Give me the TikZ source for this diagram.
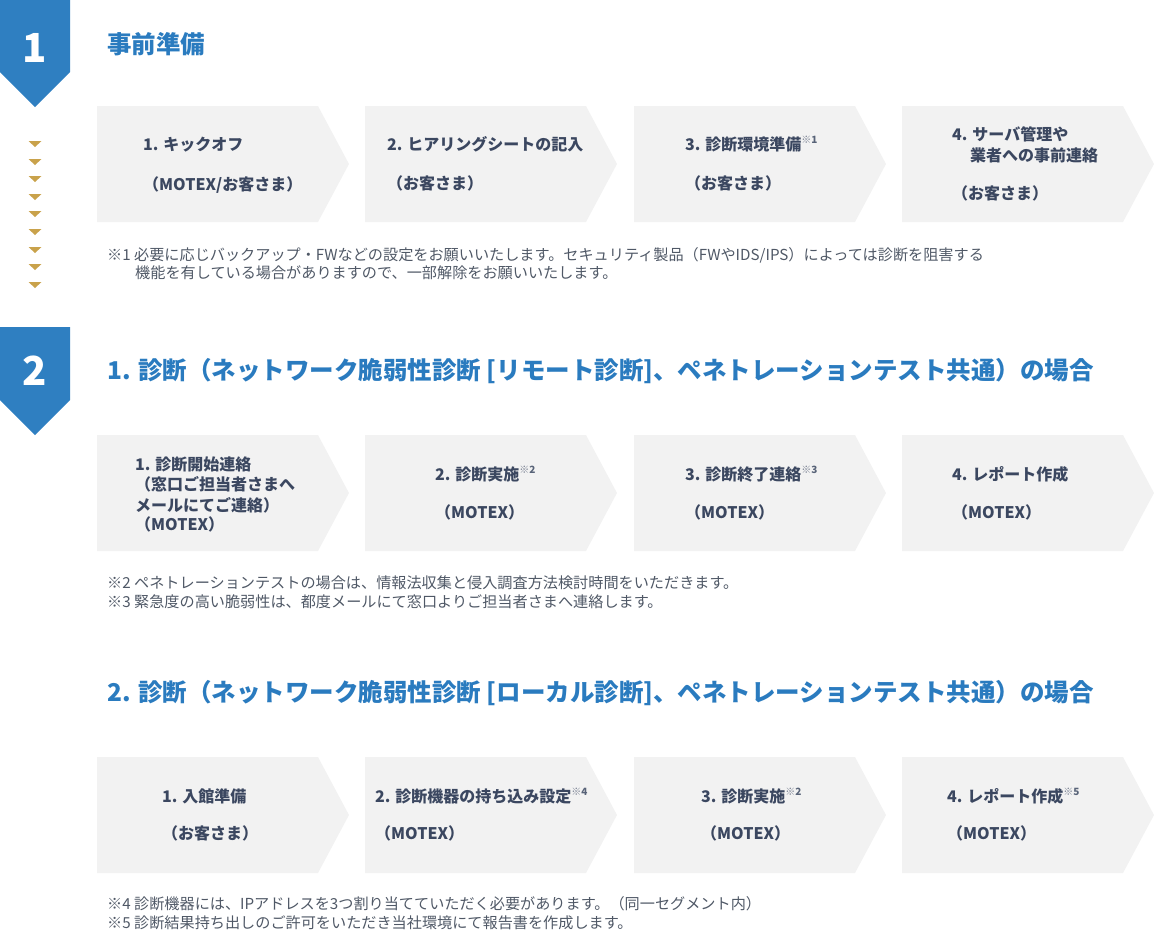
\documentclass[tikz,border=0pt]{standalone}
\usepackage{fontspec}
\setmainfont{Noto Sans CJK JP}
\definecolor{badgeblue}{HTML}{2F7FC1}
\definecolor{headblue}{HTML}{2A7BBF}
\definecolor{boxgray}{HTML}{F2F2F2}
\definecolor{stepcol}{HTML}{3B4760}
\definecolor{notecol}{HTML}{4F5866}
\definecolor{gold}{HTML}{C9A24B}
\newcommand\komeref[1]{\raisebox{0.42em}{\fontsize{10}{11}\selectfont{\mdseries\color{stepcol!70}※}{\color{stepcol!85}#1}}}
\begin{document}
\begin{tikzpicture}[x=1pt,y=-1pt,
  badge/.style={fill=badgeblue},
  chevbox/.style={fill=boxgray},
  goldtri/.style={fill=gold},
  badgenum/.style={anchor=base, inner sep=0, text=white, font=\fontsize{40}{44}\selectfont\bfseries},
  heading/.style={anchor=base west, inner sep=0, text=headblue, font=\fontsize{24.5}{28}\selectfont\bfseries},
  stepline/.style={anchor=base west, inner sep=0, text=stepcol, font=\fontsize{16}{19}\selectfont\bfseries},
  note/.style={anchor=base west, inner sep=0, text=notecol, font=\fontsize{15.15}{17}\selectfont},
  chev/.pic={\path[chevbox] (0,0) -- (221,0) -- (252,58) -- (221,116) -- (0,116) -- cycle;}
]
\useasboundingbox (0,0) rectangle (1155,943);

% ---------- badges ----------
\path[badge] (0,0) -- (70,0) -- (70,72) -- (35,107) -- (0,72) -- cycle;
\node[badgenum] (n1) at (35,62) {1};
\path[badge] (0,327) -- (70,327) -- (70,400) -- (35,435) -- (0,400) -- cycle;
\node[badgenum] (n2) at (35,385) {2};

% ---------- gold triangles ----------
\foreach \ty in {141,159,176,194,211,229,247,264,282}{
  \path[goldtri] (28.5,\ty) -- (41.5,\ty) -- (35,\ty+6) -- cycle;
}

% ---------- headings ----------
\node[heading] (h1) at (107,53) {事前準備};
\node[heading] (h2) at (107,379) {1. 診断（ネットワーク脆弱性診断 [リモート診断]、ペネトレーションテスト共通）の場合};
\node[heading] (h3) at (107,701) {2. 診断（ネットワーク脆弱性診断 [ローカル診断]、ペネトレーションテスト共通）の場合};

% ---------- chevrons ----------
\foreach \ry in {106,435,757}{
  \foreach \rx in {97,365,634,902}{
    \pic at (\rx,\ry) {chev};
  }
}

% ---------- row 1 ----------
\node[stepline] (a1t) at (143,150) {1. キックオフ};
\node[stepline] (a1b) at (143,190) {（MOTEX/お客さま）};
\node[stepline] (a2t) at (387,150) {2. ヒアリングシートの記入};
\node[stepline] (a2b) at (387,189) {（お客さま）};
\node[stepline] (a3t) at (685,150) {3. 診断環境準備\komeref{1}};
\node[stepline] (a3b) at (685,189) {（お客さま）};
\node[stepline] (a4t) at (952,140) {4. サーバ管理や};
\node[stepline] (a4m) at (970,161) {業者への事前連絡};
\node[stepline] (a4b) at (952,199) {（お客さま）};

\node[note] (f1a) at (107,260) {※1 必要に応じバックアップ・FWなどの設定をお願いいたします。セキュリティ製品（FWやIDS/IPS）によっては診断を阻害する};
\node[note] (f1b) at (135,278) {機能を有している場合がありますので、一部解除をお願いいたします。};

% ---------- row 2 ----------
\node[stepline] (b1t) at (135,470) {1. 診断開始連絡};
\node[stepline] (b1m) at (135,490) {（窓口ご担当者さまへ};
\node[stepline] (b1n) at (135,511) {メールにてご連絡）};
\node[stepline] (b1b) at (135,530) {（MOTEX）};
\node[stepline] (b2t) at (435,480) {2. 診断実施\komeref{2}};
\node[stepline] (b2b) at (435,518) {（MOTEX）};
\node[stepline] (b3t) at (685,480) {3. 診断終了連絡\komeref{3}};
\node[stepline] (b3b) at (685,518) {（MOTEX）};
\node[stepline] (b4t) at (952,480) {4. レポート作成};
\node[stepline] (b4b) at (952,518) {（MOTEX）};

\node[note] (f2) at (107,588) {※2 ペネトレーションテストの場合は、情報法収集と侵入調査方法検討時間をいただきます。};
\node[note] (f3) at (107,607) {※3 緊急度の高い脆弱性は、都度メールにて窓口よりご担当者さまへ連絡します。};

% ---------- row 3 ----------
\node[stepline] (c1t) at (162,802) {1. 入館準備};
\node[stepline] (c1b) at (162,839) {（お客さま）};
\node[stepline] (c2t) at (375,802) {2. 診断機器の持ち込み設定\komeref{4}};
\node[stepline] (c2b) at (375,839) {（MOTEX）};
\node[stepline] (c3t) at (701,802) {3. 診断実施\komeref{2}};
\node[stepline] (c3b) at (701,839) {（MOTEX）};
\node[stepline] (c4t) at (947,802) {4. レポート作成\komeref{5}};
\node[stepline] (c4b) at (947,839) {（MOTEX）};

\node[note] (f4) at (107,909) {※4 診断機器には、IPアドレスを3つ割り当てていただく必要があります。（同一セグメント内）};
\node[note] (f5) at (107,928) {※5 診断結果持ち出しのご許可をいただき当社環境にて報告書を作成します。};
\end{tikzpicture}
\end{document}
